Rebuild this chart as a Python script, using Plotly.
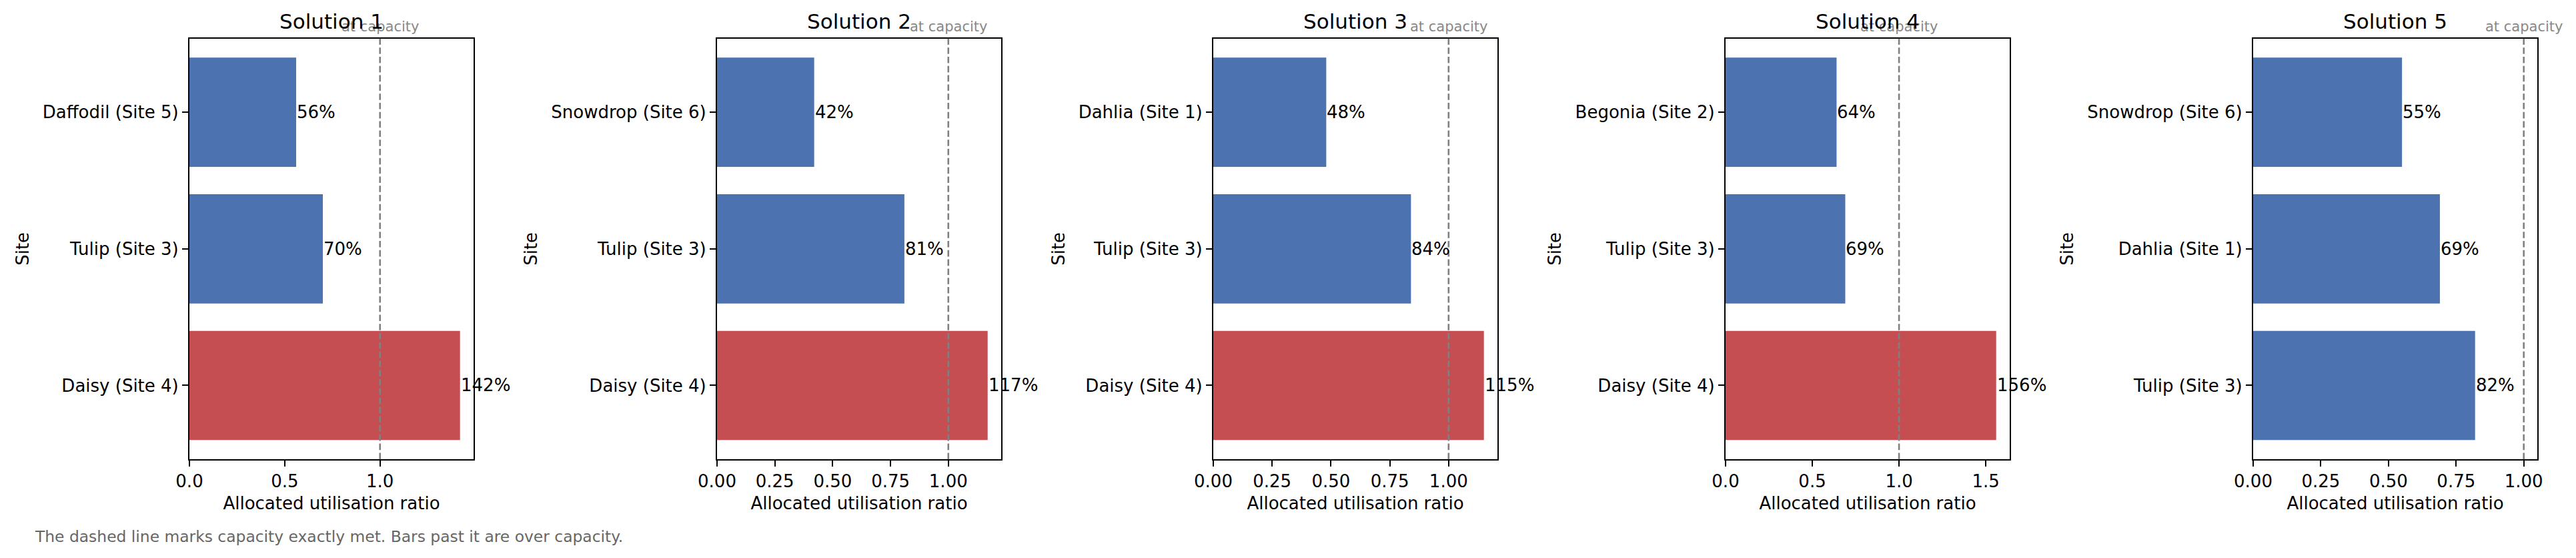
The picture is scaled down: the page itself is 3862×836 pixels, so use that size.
import plotly.graph_objects as go

# utilisation per site for each candidate solution (first item drawn at the bottom)
SOLUTIONS = ["Solution 1", "Solution 2", "Solution 3", "Solution 4", "Solution 5"]

SITES_1 = ["Daisy (Site 4)", "Tulip (Site 3)", "Daffodil (Site 5)"]
RATIO_1 = [1.42, 0.70, 0.56]

SITES_2 = ["Daisy (Site 4)", "Tulip (Site 3)", "Snowdrop (Site 6)"]
RATIO_2 = [1.17, 0.81, 0.42]

SITES_3 = ["Daisy (Site 4)", "Tulip (Site 3)", "Dahlia (Site 1)"]
RATIO_3 = [1.15, 0.84, 0.48]

SITES_4 = ["Daisy (Site 4)", "Tulip (Site 3)", "Begonia (Site 2)"]
RATIO_4 = [1.56, 0.69, 0.64]

SITES_5 = ["Tulip (Site 3)", "Dahlia (Site 1)", "Snowdrop (Site 6)"]
RATIO_5 = [0.82, 0.69, 0.55]

TICK_STEPS = [0.5, 0.25, 0.25, 0.5, 0.25]
TICK_FORMATS = [".1f", ".2f", ".2f", ".1f", ".2f"]

CAPACITY = 1.0
CAPACITY_LABEL = "at capacity"
X_TITLE = "Allocated utilisation ratio"
Y_TITLE = "Site"
FOOTNOTE = "The dashed line marks capacity exactly met. Bars past it are over capacity."

W, H = 3862, 836
FONT = "DejaVu Sans"
BLUE = "#4C72B0"
RED = "#C44E52"
BASE_SIZE = 26

# pixel frame of each panel
AXES_LEFT_PX = [284, 1075, 1819, 2587, 3378]
AXES_WIDTH_PX = 426
AXES_TOP_PX = 57.7
AXES_BOTTOM_PX = 688

sites_all = [SITES_1, SITES_2, SITES_3, SITES_4, SITES_5]
ratios_all = [RATIO_1, RATIO_2, RATIO_3, RATIO_4, RATIO_5]

y0 = 1 - AXES_BOTTOM_PX / H
y1 = 1 - AXES_TOP_PX / H

fig = go.Figure()
annotations = []
shapes = []

for i, (title, sites, ratios) in enumerate(zip(SOLUTIONS, sites_all, ratios_all)):
    n = i + 1
    xa = "x" if n == 1 else f"x{n}"
    ya = "y" if n == 1 else f"y{n}"
    x0 = AXES_LEFT_PX[i] / W
    x1 = (AXES_LEFT_PX[i] + AXES_WIDTH_PX) / W

    colors = [RED if r > CAPACITY else BLUE for r in ratios]
    fig.add_trace(go.Bar(
        x=ratios, y=sites, orientation="h",
        marker=dict(color=colors, line=dict(width=0)),
        width=0.8, xaxis=xa, yaxis=ya, showlegend=False,
        hoverinfo="x+y",
    ))

    xmax = 1.05 * max(max(ratios), CAPACITY)
    axis_common = dict(
        showline=True, linecolor="black", linewidth=2.1, mirror=True,
        ticks="outside", ticklen=9, tickwidth=2.1, tickcolor="black",
        showgrid=False, zeroline=False, automargin=False,
        tickfont=dict(family=FONT, size=BASE_SIZE, color="black"),
    )
    fig.layout[f"xaxis{'' if n == 1 else n}"] = dict(
        domain=[x0, x1], anchor=ya, range=[0, xmax],
        tick0=0, dtick=TICK_STEPS[i], tickformat=TICK_FORMATS[i],
        title=dict(text=X_TITLE, font=dict(family=FONT, size=BASE_SIZE, color="black"), standoff=10),
        **axis_common,
    )
    fig.layout[f"yaxis{'' if n == 1 else n}"] = dict(
        domain=[y0, y1], anchor=xa, type="category",
        categoryorder="array", categoryarray=sites, range=[-0.54, 2.54],
        title=dict(text=Y_TITLE, font=dict(family=FONT, size=BASE_SIZE, color="black"), standoff=13),
        **axis_common,
    )

    # value labels just past the bar ends
    for s, r in zip(sites, ratios):
        annotations.append(dict(
            x=r, y=s, xref=xa, yref=ya, text=f"{r:.0%}", showarrow=False,
            xanchor="left", yanchor="middle", xshift=-1,
            font=dict(family=FONT, size=BASE_SIZE, color="black"),
        ))

    # capacity line and its tag
    shapes.append(dict(
        type="line", xref=xa, yref=f"{ya} domain", x0=CAPACITY, x1=CAPACITY, y0=0, y1=1,
        line=dict(color="#808080", width=2.6, dash="9.6px,4.2px"),
    ))
    annotations.append(dict(
        x=CAPACITY, y=y1, xref=xa, yref="paper", text=CAPACITY_LABEL, showarrow=False,
        xanchor="center", yanchor="bottom", yshift=4,
        font=dict(family=FONT, size=21, color="#888888"),
    ))

    annotations.append(dict(
        x=(x0 + x1) / 2, y=y1, xref="paper", yref="paper", text=title, showarrow=False,
        xanchor="center", yanchor="bottom", yshift=6,
        font=dict(family=FONT, size=31, color="black"),
    ))

annotations.append(dict(
    x=50 / W, y=1 - 804 / H, xref="paper", yref="paper", text=FOOTNOTE, showarrow=False,
    xanchor="left", yanchor="middle",
    font=dict(family=FONT, size=23.4, color="#666666"),
))

fig.update_layout(
    width=W, height=H, autosize=False,
    margin=dict(l=0, r=0, t=0, b=0),
    paper_bgcolor="white", plot_bgcolor="white",
    font=dict(family=FONT, size=BASE_SIZE, color="black"),
    annotations=annotations, shapes=shapes,
    bargap=0.2,
)

fig.write_html("out.html", config={"displayModeBar": False},
               post_script="document.body.style.margin='0';")
